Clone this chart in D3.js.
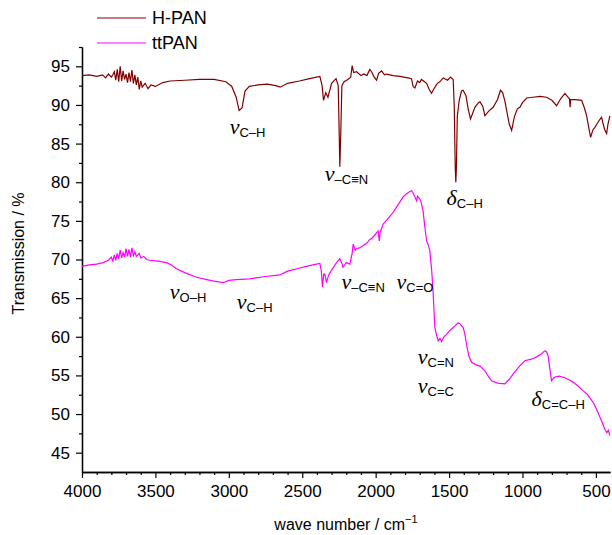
<!DOCTYPE html>
<html>
<head>
<meta charset="utf-8">
<script src="https://cdn.jsdelivr.net/npm/d3@7"></script>
<style>
  body { margin: 0; background: #fff; }
  svg { display: block; }
  text { font-family: "Liberation Sans", Arial, sans-serif; }
</style>
</head>
<body>
<div id="chart"></div>
<script>
// H-PAN spectrum (wave number, transmission %)
const hpanWave = [4000,3950,3900,3860,3840,3820,3800,3790,3780,3770,3760,3750,3740,3730,3720,3710,3700,3690,3680,3670,3660,3650,3640,3630,3620,3610,3600,3590,3570,3550,3530,3500,3450,3400,3300,3200,3100,3020,2980,2950,2930,2910,2890,2860,2800,2740,2680,2650,2600,2520,2450,2380,2365,2355,2340,2325,2300,2270,2255,2248,2244,2238,2230,2215,2190,2170,2160,2150,2130,2100,2080,2060,2040,2028,2010,1994,1980,1960,1940,1926,1880,1835,1780,1756,1745,1733,1715,1700,1688,1653,1635,1620,1600,1580,1563,1540,1510,1490,1472,1465,1458,1454,1450,1444,1431,1415,1404,1385,1370,1354,1340,1324,1300,1290,1270,1256,1230,1200,1170,1150,1135,1120,1108,1090,1074,1055,1035,1018,1000,972,930,880,836,800,768,740,711,695,680,676,672,640,597,580,563,550,536,520,507,485,470,461,450,440,427,418,405];
const hpanT = [93.8,93.9,93.7,93.9,93.5,94.0,93.6,93.9,94.3,93.2,94.6,93.0,95.0,93.1,94.4,93.3,94.0,92.9,94.2,93.0,94.5,92.8,93.9,92.6,93.6,92.0,93.1,92.3,92.8,92.1,92.6,92.4,92.9,93.1,93.2,93.3,93.3,93.0,92.4,91.0,89.3,89.6,91.8,92.4,92.6,92.7,92.5,92.3,92.8,93.1,93.4,93.7,92.5,90.6,91.6,91.0,92.8,93.4,92.5,86.0,82.0,86.0,92.5,93.0,93.3,93.6,95.1,94.2,94.3,93.8,94.0,93.8,94.6,94.3,93.6,93.2,94.1,94.4,93.9,94.0,93.8,93.7,93.5,93.4,92.4,92.2,93.1,92.9,93.3,92.8,92.0,91.5,92.2,92.8,93.0,93.5,93.2,93.6,93.3,90.0,82.0,80.0,82.0,88.5,90.6,91.8,91.9,91.2,89.5,88.2,88.9,89.7,90.3,90.4,89.8,88.6,89.2,89.7,90.7,91.9,91.6,90.5,89.3,87.5,86.7,88.5,89.5,89.7,90.3,90.9,91.0,91.1,91.0,90.6,89.9,90.8,91.5,91.1,90.8,89.7,90.7,90.7,90.6,89.7,88.6,87.2,85.8,86.8,87.1,87.8,88.2,88.4,87.5,86.8,86.3,87.5,88.6];

// ttPAN spectrum
const ttpanWave = [4000,3950,3900,3857,3820,3800,3790,3780,3770,3760,3750,3740,3730,3720,3710,3700,3690,3680,3670,3660,3650,3640,3630,3610,3600,3580,3560,3539,3480,3425,3390,3357,3300,3220,3150,3100,3039,3000,2950,2857,2750,2653,2600,2517,2450,2403,2380,2370,2362,2354,2346,2335,2320,2301,2270,2244,2230,2222,2200,2176,2160,2153,2140,2130,2110,2085,2060,2040,2028,2000,1983,1975,1970,1949,1920,1881,1850,1813,1790,1767,1755,1745,1735,1722,1715,1699,1690,1677,1665,1653,1640,1631,1618,1608,1597,1585,1574,1562,1551,1535,1517,1500,1483,1455,1440,1426,1404,1392,1381,1365,1347,1320,1290,1256,1230,1211,1170,1120,1090,1063,1020,984,940,904,870,847,835,825,815,802,790,779,750,711,680,654,620,586,560,541,515,495,475,461,439,425,415,405];
const ttpanT = [69.1,69.3,69.4,69.6,69.9,70.3,69.8,70.6,69.9,70.8,70.1,71.2,70.2,70.9,70.3,71.4,70.4,71.3,70.3,71.5,70.5,71.0,70.4,70.8,70.2,70.4,70.0,69.9,69.8,69.6,69.3,68.8,68.3,67.7,67.4,67.2,67.0,67.3,67.4,67.5,67.8,68.0,68.5,68.9,69.2,69.4,69.5,68.5,66.4,68.1,68.1,67.0,68.0,68.6,69.5,70.1,69.5,69.0,69.6,69.4,70.8,72.0,71.2,71.4,71.5,71.8,72.1,72.6,72.7,73.3,73.7,72.4,73.5,74.6,75.2,76.1,77.0,78.1,78.5,78.8,78.9,78.6,78.2,77.6,78.2,77.8,77.4,76.3,74.2,72.4,71.8,71.1,68.5,65.5,61.2,60.2,59.5,59.8,59.4,60.0,60.3,60.7,61.0,61.5,61.8,61.7,61.2,60.3,59.0,57.5,56.7,56.4,56.2,55.6,54.8,54.3,54.0,53.9,54.5,55.2,56.2,56.9,57.1,57.4,57.8,58.2,58.0,57.5,56.0,54.3,54.6,54.8,54.9,54.7,54.4,54.1,53.6,53.0,52.6,52.1,51.4,50.6,49.7,49.1,48.0,47.6,47.9,47.2];

const seriesNames = ["H-PAN", "ttPAN"];
const seriesColors = ["#800000", "#ff00ff"];
const xTicks = [4000, 3500, 3000, 2500, 2000, 1500, 1000, 500];
const yTicks = [45, 50, 55, 60, 65, 70, 75, 80, 85, 90, 95];

// band assignments: symbol, subscript, wave number, transmission (label anchor)
const bandSymbol = ["ν", "ν", "δ", "ν", "ν", "ν", "ν", "ν", "ν", "δ"];
const bandSub = ["C–H", "–C≡N", "C–H", "O–H", "C–H", "–C≡N", "C=O", "C=N", "C=C", "C=C–H"];
const bandWave = [2994, 2346, 1517, 3402, 2946, 2233, 1858, 1713, 1713, 938];
const bandT = [86.3, 80.2, 77.0, 64.9, 63.6, 66.2, 66.2, 56.5, 52.7, 51.0];

const width = 612, height = 535;
const margin = { top: 47, right: 2, bottom: 63, left: 82 };

const svg = d3.select("#chart").append("svg")
  .attr("width", width)
  .attr("height", height);

const x = d3.scaleLinear()
  .domain([4000, 404])
  .range([margin.left, width - margin.right]);

const y = d3.scaleLinear()
  .domain([42.5, 97.5])
  .range([height - margin.bottom, margin.top]);

const xAxis = d3.axisBottom(x)
  .tickValues(xTicks)
  .tickFormat(d3.format("d"))
  .tickSize(6)
  .tickPadding(7)
  .tickSizeOuter(0);

const xMinor = d3.axisBottom(x)
  .tickValues(d3.range(4000, 400, -100).filter(v => v % 500 !== 0))
  .tickSize(3)
  .tickFormat("")
  .tickSizeOuter(0);

const yAxis = d3.axisLeft(y)
  .tickValues(yTicks)
  .tickSize(6)
  .tickPadding(6)
  .tickSizeOuter(0);

const yMinor = d3.axisLeft(y)
  .tickValues(d3.range(47.5, 97.6, 5))
  .tickSize(3)
  .tickFormat("")
  .tickSizeOuter(0);

svg.append("g")
  .attr("transform", `translate(0,${height - margin.bottom})`)
  .style("font-size", "17px")
  .call(xAxis);
svg.append("g")
  .attr("transform", `translate(0,${height - margin.bottom})`)
  .call(xMinor);

svg.append("g")
  .attr("transform", `translate(${margin.left},0)`)
  .style("font-size", "17px")
  .call(yAxis);
svg.append("g")
  .attr("transform", `translate(${margin.left},0)`)
  .call(yMinor);

svg.selectAll(".domain").attr("stroke", "#000").attr("stroke-width", 1.3);
svg.selectAll(".tick line").attr("stroke", "#000").attr("stroke-width", 1.2);
svg.selectAll(".tick text").attr("fill", "#000").style("font-family", "'Liberation Sans', Arial, sans-serif");

const line = d3.line()
  .x(d => x(d[0]))
  .y(d => y(d[1]));

const hpan = hpanWave.map((w, i) => [w, hpanT[i]]);
const ttpan = ttpanWave.map((w, i) => [w, ttpanT[i]]);

svg.append("path")
  .datum(hpan)
  .attr("fill", "none")
  .attr("stroke", seriesColors[0])
  .attr("stroke-width", 1.2)
  .attr("d", line);

svg.append("path")
  .datum(ttpan)
  .attr("fill", "none")
  .attr("stroke", seriesColors[1])
  .attr("stroke-width", 1.2)
  .attr("d", line);

// legend
const legend = svg.append("g").attr("transform", "translate(97,18)");
const entry = legend.selectAll(".entry")
  .data(seriesNames)
  .enter().append("g")
  .attr("class", "entry")
  .attr("transform", (d, i) => `translate(0,${i * 25})`);
entry.append("line")
  .attr("x1", 0).attr("x2", 49)
  .attr("stroke", (d, i) => seriesColors[i])
  .attr("stroke-width", 1.2);
entry.append("text")
  .attr("x", 55)
  .attr("dy", "0.36em")
  .style("font-size", "18px")
  .text(d => d);

// band labels
const band = svg.selectAll(".band")
  .data(bandSub)
  .enter().append("text")
  .attr("class", "band")
  .attr("x", (d, i) => x(bandWave[i]))
  .attr("y", (d, i) => y(bandT[i]));
band.append("tspan")
  .style("font-family", "'Liberation Serif', 'Times New Roman', serif")
  .style("font-style", "italic")
  .style("font-size", "22px")
  .text((d, i) => bandSymbol[i]);
band.append("tspan")
  .attr("dy", 3)
  .style("font-size", "13px")
  .text(d => d);

// axis titles
svg.append("text")
  .attr("transform", `translate(24,${(margin.top + height - margin.bottom) / 2 - 6}) rotate(-90)`)
  .attr("text-anchor", "middle")
  .style("font-size", "16px")
  .text("Transmission / %");

const xt = svg.append("text")
  .attr("x", (margin.left + width - margin.right) / 2)
  .attr("y", 530)
  .attr("text-anchor", "middle")
  .style("font-size", "16px");
xt.append("tspan").text("wave number / cm");
xt.append("tspan").attr("dy", -7).style("font-size", "11px").text("−1");
</script>
</body>
</html>
